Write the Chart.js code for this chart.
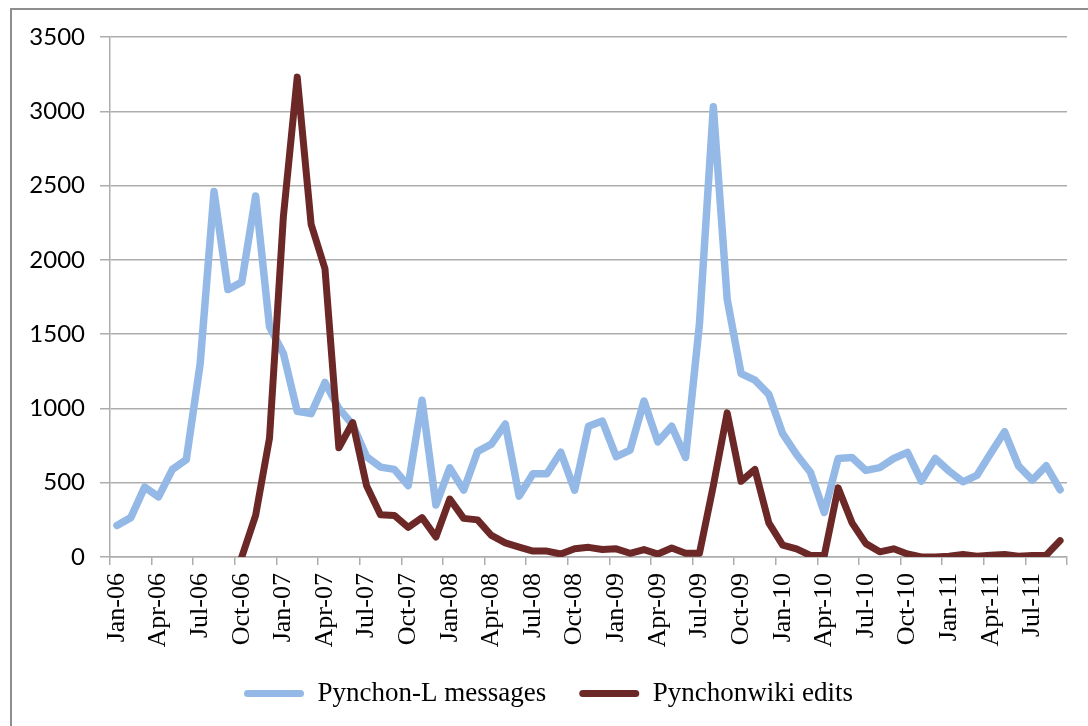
<!DOCTYPE html>
<html>
<head>
<meta charset="utf-8">
<script src="https://cdn.jsdelivr.net/npm/chart.js@4.4.1/dist/chart.umd.min.js"></script>
<style>
  html, body { margin: 0; padding: 0; background: #fff; }
  #wrap { position: relative; width: 1088px; height: 726px; overflow: hidden; }
  #frame { position: absolute; left: 10px; top: 8px; width: 1200px; height: 800px;
           border: 2px solid #8e8e8e; pointer-events: none; }
</style>
</head>
<body>
<div id="wrap">
  <canvas id="chart" width="1088" height="726"></canvas>
  <div id="frame"></div>
</div>
<script>
const months = [
  "Jan-06","Feb-06","Mar-06","Apr-06","May-06","Jun-06","Jul-06","Aug-06","Sep-06","Oct-06","Nov-06","Dec-06",
  "Jan-07","Feb-07","Mar-07","Apr-07","May-07","Jun-07","Jul-07","Aug-07","Sep-07","Oct-07","Nov-07","Dec-07",
  "Jan-08","Feb-08","Mar-08","Apr-08","May-08","Jun-08","Jul-08","Aug-08","Sep-08","Oct-08","Nov-08","Dec-08",
  "Jan-09","Feb-09","Mar-09","Apr-09","May-09","Jun-09","Jul-09","Aug-09","Sep-09","Oct-09","Nov-09","Dec-09",
  "Jan-10","Feb-10","Mar-10","Apr-10","May-10","Jun-10","Jul-10","Aug-10","Sep-10","Oct-10","Nov-10","Dec-10",
  "Jan-11","Feb-11","Mar-11","Apr-11","May-11","Jun-11","Jul-11","Aug-11","Sep-11"
];

// Pynchon-L messages per month
const listMessages = [
  212, 265, 470, 405, 590, 655, 1300, 2460, 1800, 1850, 2430, 1550,
  1370, 980, 965, 1175, 1000, 890, 675, 605, 590, 480, 1055, 350,
  600, 450, 710, 760, 895, 410, 560, 560, 705, 450, 880, 915,
  675, 720, 1050, 775, 880, 670, 1570, 3030, 1735, 1235, 1190, 1095,
  830, 690, 570, 300, 663, 670, 583, 602, 663, 704, 511, 663,
  578, 506, 549, 699, 843, 614, 518, 614, 453
];

// Pynchonwiki edits per month (wiki starts Oct-06)
const wikiEdits = [
  null, null, null, null, null, null, null, null, null, 0, 280, 800,
  2290, 3230, 2240, 1940, 735, 905, 480, 285, 280, 200, 265, 135,
  390, 260, 250, 145, 95, 67, 40, 40, 20, 55, 65, 50,
  55, 25, 50, 20, 60, 25, 25, 480, 970, 510, 590, 230,
  80, 55, 10, 10, 465, 230, 90, 35, 55, 20, 0, 0,
  5, 17, 5, 12, 17, 5, 10, 12, 110
];

const yTicks = [0, 500, 1000, 1500, 2000, 2500, 3000, 3500];

const gridGrey = "#adadad";
const blue = "#94b9e6";
const maroon = "#6b2826";

new Chart(document.getElementById("chart"), {
  type: "line",
  data: {
    labels: months,
    datasets: [
      {
        label: "Pynchon-L messages",
        data: listMessages,
        borderColor: blue,
        backgroundColor: blue,
        borderWidth: 7.5,
        pointRadius: 0,
        tension: 0,
        borderJoinStyle: "round",
        borderCapStyle: "round",
        order: 2
      },
      {
        label: "Pynchonwiki edits",
        data: wikiEdits,
        borderColor: maroon,
        backgroundColor: maroon,
        borderWidth: 7,
        pointRadius: 0,
        tension: 0,
        borderJoinStyle: "round",
        borderCapStyle: "round",
        order: 1
      }
    ]
  },
  options: {
    responsive: false,
    animation: false,
    layout: { padding: { left: 30, right: 21, top: 37, bottom: 9 } },
    plugins: {
      tooltip: { enabled: false },
      legend: {
        position: "bottom",
        labels: {
          color: "#000",
          font: { family: "Liberation Serif", size: 27 },
          boxWidth: 60,
          boxHeight: 7,
          padding: 33,
          sort: (a, b) => a.datasetIndex - b.datasetIndex,
          generateLabels: (chart) =>
            Chart.defaults.plugins.legend.labels.generateLabels(chart).map(l => ({
              ...l, fillStyle: l.strokeStyle, lineWidth: 0, borderRadius: 3.5
            }))
        }
      }
    },
    scales: {
      x: {
        offset: true,
        afterFit: s => { s.height = 90; s.paddingLeft = 0; s.paddingRight = 0; },
        grid: {
          offset: true,
          drawOnChartArea: false,
          tickLength: 8,
          lineWidth: 1.5,
          color: c => (c.index === undefined || c.index % 3 === 0) ? gridGrey : "rgba(0,0,0,0)"
        },
        border: { color: gridGrey, width: 1.5 },
        ticks: {
          autoSkip: false,
          minRotation: 90,
          maxRotation: 90,
          padding: 8,
          color: "#000",
          font: { family: "Liberation Serif", size: 26 },
          callback: (v, i) => i % 3 === 0 ? months[i] : ""
        }
      },
      y: {
        min: 0,
        max: 3500,
        afterFit: s => { s.width = 80; },
        afterBuildTicks: s => { s.ticks = yTicks.map(v => ({ value: v })); },
        grid: { color: gridGrey, lineWidth: 1.5, tickLength: 10 },
        border: { color: gridGrey, width: 1.5 },
        ticks: {
          padding: 15,
          color: "#000",
          font: { family: "Lato", size: 24 },
          callback: v => String(v)
        }
      }
    }
  }
});
</script>
</body>
</html>
